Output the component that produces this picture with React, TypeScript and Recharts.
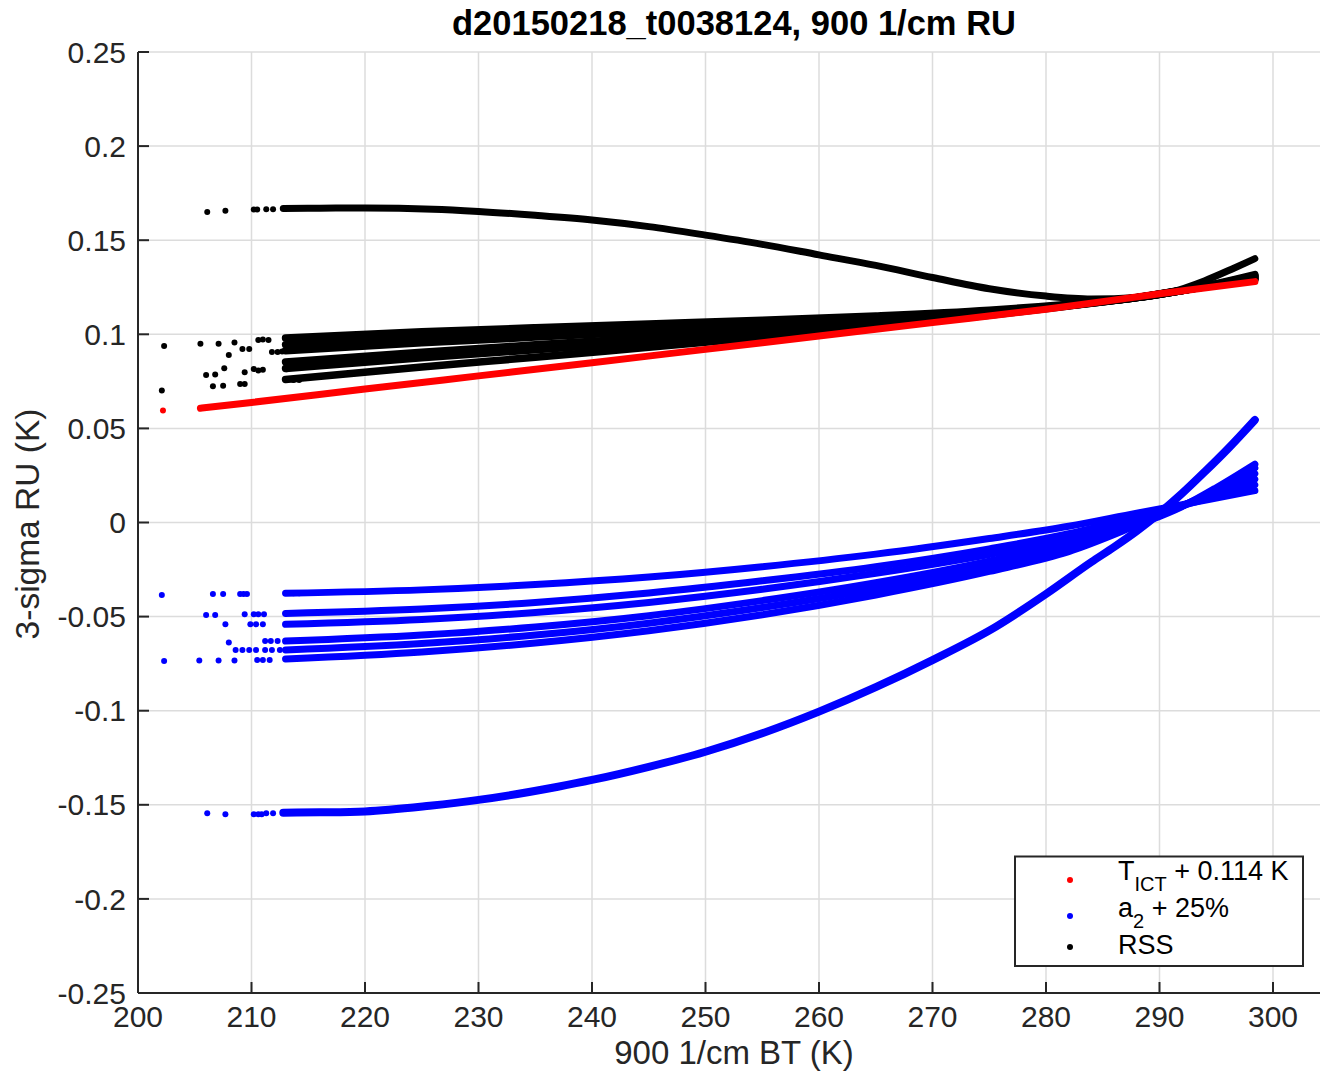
import { CartesianGrid, ComposedChart, Line, Scatter, XAxis, YAxis } from 'recharts';

// axis ticks
const xTicks = [200, 210, 220, 230, 240, 250, 260, 270, 280, 290, 300];
const yTicks = [-0.25, -0.2, -0.15, -0.1, -0.05, 0, 0.05, 0.1, 0.15, 0.2, 0.25];

// T_ICT + 0.114 K (red)
const redX = [205.5, 210, 220, 230, 240, 250, 260, 270, 280, 290, 298.4];
const redY = [0.0607, 0.0638, 0.0709, 0.0779, 0.0849, 0.092, 0.0991, 0.1062, 0.1133, 0.1215, 0.128];
const redSparse = [[202.2, 0.0595]];

// a2 + 25% (blue): lowest curve
const steepX = [212.8, 216, 220, 225.7, 230, 237, 240, 245, 250, 255, 260, 265, 270, 275.6, 280, 284, 286, 288, 290, 292, 294, 296, 298.4];
const steepY = [-0.1542, -0.154, -0.1535, -0.1505, -0.1474, -0.1404, -0.1368, -0.1298, -0.1218, -0.112, -0.1005, -0.0875, -0.0731, -0.0553, -0.038, -0.021, -0.013, -0.0045, 0.005, 0.0155, 0.027, 0.039, 0.0545];

// fan of bands, shared x positions
const fanX = [213, 225, 235, 245, 255, 265, 275, 282, 288, 292, 295, 298.4];
const blueFan1 = [-0.0376, -0.0358, -0.033, -0.029, -0.0235, -0.0168, -0.0085, -0.002, 0.005, 0.0095, 0.013, 0.017];
const blueFan2 = [-0.0483, -0.046, -0.0425, -0.0375, -0.031, -0.0235, -0.014, -0.006, 0.003, 0.009, 0.014, 0.02];
const blueFan3 = [-0.0541, -0.0515, -0.0478, -0.0425, -0.0355, -0.027, -0.017, -0.0085, 0.0015, 0.009, 0.0155, 0.023];
const blueFan4 = [-0.063, -0.0598, -0.0555, -0.0495, -0.0415, -0.032, -0.0205, -0.011, 0.0005, 0.009, 0.0165, 0.026];
const blueFan5 = [-0.0677, -0.0643, -0.0598, -0.0535, -0.0452, -0.0352, -0.023, -0.013, -0.0005, 0.0088, 0.0175, 0.029];
const blueFan6 = [-0.0725, -0.0688, -0.064, -0.0575, -0.049, -0.0385, -0.026, -0.0155, -0.0015, 0.0085, 0.0185, 0.031];

const blueSparse = [
  [202.1, -0.0385], [202.3, -0.0736], [206.6, -0.038], [207.5, -0.038], [209.0, -0.038], [209.3, -0.038],
  [209.6, -0.038], [213.7, -0.0376], [214.2, -0.0376], [206.0, -0.0491], [206.8, -0.0491], [209.4, -0.0488],
  [210.2, -0.0488], [210.6, -0.0488], [211.1, -0.0488], [207.7, -0.0541], [209.9, -0.0541], [210.4, -0.0541],
  [211.0, -0.0541], [208.0, -0.0637], [211.2, -0.063], [211.7, -0.063], [212.3, -0.063], [208.6, -0.0677],
  [209.2, -0.0677], [209.8, -0.0677], [210.4, -0.0677], [211.2, -0.0677], [211.8, -0.0677], [212.5, -0.0677],
  [205.4, -0.0733], [207.1, -0.0733], [208.5, -0.0733], [210.5, -0.073], [211.0, -0.073], [211.6, -0.073],
  [206.1, -0.1545], [207.7, -0.155], [210.2, -0.155], [210.6, -0.155], [210.9, -0.155], [211.3, -0.1545], [211.9, -0.1545],
];

// RSS (black)
const topX = [212.8, 216, 220, 226, 230, 235, 240, 245, 250, 255, 260, 265, 270, 275, 280, 284, 288, 291, 294, 296.5, 298.4];
const topY = [0.1668, 0.167, 0.1671, 0.1665, 0.1653, 0.1632, 0.1607, 0.1572, 0.1527, 0.1478, 0.1422, 0.1366, 0.1302, 0.1242, 0.1203, 0.1188, 0.1196, 0.1224, 0.1285, 0.135, 0.1402];
const rssFan1 = [0.076, 0.0826, 0.0878, 0.0931, 0.0984, 0.1041, 0.1101, 0.115, 0.1196, 0.1234, 0.1262, 0.1291];
const rssFan2 = [0.0818, 0.0875, 0.0918, 0.0961, 0.1005, 0.1054, 0.1107, 0.1152, 0.1195, 0.1233, 0.1263, 0.1296];
const rssFan3 = [0.0853, 0.0905, 0.0944, 0.0982, 0.102, 0.1062, 0.1111, 0.1153, 0.1195, 0.1233, 0.1265, 0.13];
const rssFan4 = [0.0912, 0.0955, 0.0985, 0.1014, 0.1042, 0.1076, 0.1117, 0.1155, 0.1195, 0.1233, 0.1266, 0.1306];
const rssFan5 = [0.0945, 0.0983, 0.101, 0.1034, 0.1057, 0.1086, 0.1122, 0.1157, 0.1195, 0.1233, 0.1267, 0.1312];
const rssFan6 = [0.098, 0.1013, 0.1035, 0.1055, 0.1074, 0.1097, 0.1128, 0.116, 0.1195, 0.1233, 0.1269, 0.1317];

const rssSparse = [
  [202.3, 0.0938], [202.1, 0.0702], [205.5, 0.095], [206.0, 0.0784], [206.6, 0.0724], [206.8, 0.0787],
  [207.1, 0.095], [207.5, 0.0727], [207.6, 0.0819], [208.0, 0.089], [208.5, 0.0956], [209.0, 0.0736],
  [209.4, 0.0736], [209.4, 0.0798], [209.2, 0.0922], [209.8, 0.0922], [210.2, 0.0815], [210.6, 0.0808],
  [211.0, 0.0812], [210.6, 0.097], [211.0, 0.0972], [211.5, 0.097], [211.8, 0.0906], [212.3, 0.0906],
  [212.7, 0.0908], [213.1, 0.0814], [213.7, 0.0757], [214.2, 0.0757],
  [206.1, 0.165], [207.7, 0.1656], [210.2, 0.1663], [210.5, 0.1663], [211.3, 0.1665], [211.9, 0.1665],
];

const FONT = '"Liberation Sans", Arial, Helvetica, sans-serif';
const AXIS = '#262626';

const zip = (xs: number[], ys: number[]) => xs.map((x, i) => ({ x, y: ys[i] }));
const pairs = (list: number[][]) => list.map(([x, y]) => ({ x, y }));

// MATLAB '.' marker
const dot = (color: string) => (p: any) => <circle cx={p.cx} cy={p.cy} r={3} fill={color} />;

export default function App() {
  const rssLines = [rssFan1, rssFan2, rssFan3, rssFan4, rssFan5, rssFan6].map((ys) => zip(fanX, ys));
  const blueLines = [blueFan1, blueFan2, blueFan3, blueFan4, blueFan5, blueFan6].map((ys) => zip(fanX, ys));

  const band = (key: string, data: { x: number; y: number }[], color: string, width = 7) => (
    <Line
      key={key}
      data={data}
      dataKey="y"
      type="monotone"
      stroke={color}
      strokeWidth={width}
      strokeLinecap="round"
      strokeLinejoin="round"
      dot={false}
      activeDot={false}
      isAnimationActive={false}
    />
  );

  const axisStroke = { stroke: AXIS, strokeWidth: 2 };

  return (
    <div
      style={{
        position: 'absolute',
        left: 0,
        top: 0,
        width: 1320,
        height: 1073,
        overflow: 'hidden',
        background: '#fff',
        fontFamily: FONT,
      }}
    >
      <ComposedChart width={1400} height={1073} margin={{ top: 52, right: 70.25, bottom: 0, left: 0 }}>
        <CartesianGrid stroke="#dcdcdc" strokeWidth={1.5} />
        <XAxis
          dataKey="x"
          type="number"
          domain={[200, 305]}
          ticks={xTicks}
          interval={0}
          allowDataOverflow
          height={80}
          tickSize={-11}
          tickMargin={24}
          axisLine={axisStroke}
          tickLine={axisStroke}
          tick={{ fill: AXIS, fontSize: 30 }}
        />
        <XAxis
          xAxisId="top"
          orientation="top"
          type="number"
          domain={[200, 305]}
          ticks={xTicks}
          interval={0}
          allowDataOverflow
          height={0}
          tickSize={-11}
          tickFormatter={() => ''}
          axisLine={axisStroke}
          tickLine={axisStroke}
        />
        <YAxis
          dataKey="y"
          type="number"
          domain={[-0.25, 0.25]}
          ticks={yTicks}
          interval={0}
          allowDataOverflow
          width={138}
          tickSize={-11}
          tickMargin={23}
          axisLine={axisStroke}
          tickLine={axisStroke}
          tick={{ fill: AXIS, fontSize: 30 }}
        />
        <YAxis
          yAxisId="right"
          orientation="right"
          type="number"
          domain={[-0.25, 0.25]}
          ticks={yTicks}
          interval={0}
          allowDataOverflow
          width={0}
          tickSize={-11}
          tickFormatter={() => ''}
          axisLine={axisStroke}
          tickLine={axisStroke}
        />

        {/* RSS */}
        {band('rss-top', zip(topX, topY), '#000000')}
        {rssLines.map((d, i) => band(`rss-${i}`, d, '#000000', 7.5))}
        <Scatter data={pairs(rssSparse)} dataKey="y" fill="#000000" shape={dot('#000000')} isAnimationActive={false} />

        {/* a2 + 25% */}
        {band('blue-steep', zip(steepX, steepY), '#0000ff', 8)}
        {blueLines.map((d, i) => band(`blue-${i}`, d, '#0000ff'))}
        <Scatter data={pairs(blueSparse)} dataKey="y" fill="#0000ff" shape={dot('#0000ff')} isAnimationActive={false} />

        {/* T_ICT + 0.114 K */}
        {band('red', zip(redX, redY), '#ff0000')}
        <Scatter data={pairs(redSparse)} dataKey="y" fill="#ff0000" shape={dot('#ff0000')} isAnimationActive={false} />
      </ComposedChart>

      <svg
        width={1320}
        height={1073}
        style={{ position: 'absolute', left: 0, top: 0, pointerEvents: 'none', fontFamily: FONT }}
      >
        <text x={734} y={35} textAnchor="middle" fontSize={34.5} fontWeight="bold" fill="#000">
          d20150218_t0038124, 900 1/cm RU
        </text>
        <text x={734} y={1064} textAnchor="middle" fontSize={33} fill={AXIS}>
          900 1/cm BT (K)
        </text>
        <text transform="translate(39 524) rotate(-90)" textAnchor="middle" fontSize={33.5} fill={AXIS}>
          3-sigma RU (K)
        </text>

        <rect x={1015} y={856.5} width={288} height={109.5} fill="#fff" stroke={AXIS} strokeWidth={2} />
        <circle cx={1070} cy={880} r={3} fill="#ff0000" />
        <circle cx={1070} cy={916} r={3} fill="#0000ff" />
        <circle cx={1070} cy={947} r={3} fill="#000000" />
        <text x={1118} y={880} fontSize={27} fill="#000">
          T<tspan fontSize={20} dy={11}>ICT</tspan>
          <tspan dy={-11}> + 0.114 K</tspan>
        </text>
        <text x={1118} y={917} fontSize={27} fill="#000">
          a<tspan fontSize={20} dy={11}>2</tspan>
          <tspan dy={-11}> + 25%</tspan>
        </text>
        <text x={1118} y={954} fontSize={27} fill="#000">
          RSS
        </text>
      </svg>
    </div>
  );
}
